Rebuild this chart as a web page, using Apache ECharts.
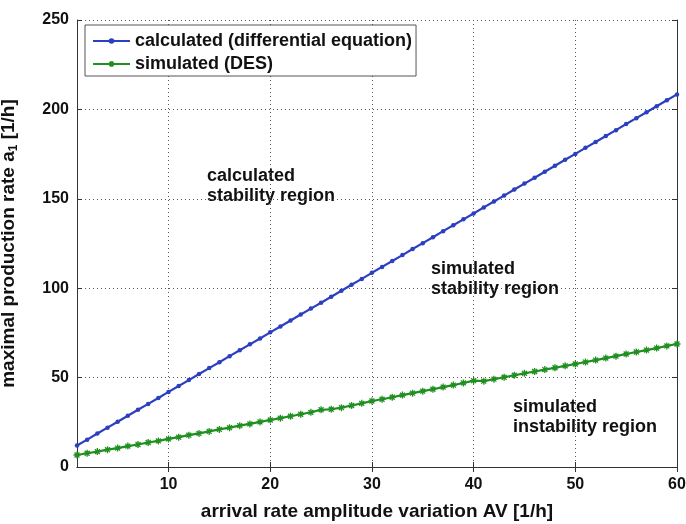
<!DOCTYPE html>
<html>
<head>
<meta charset="utf-8">
<script src="https://cdn.jsdelivr.net/npm/echarts@6/dist/echarts.min.js"></script>
<style>html,body{margin:0;padding:0;background:#fff}#c{width:686px;height:524px}</style>
</head>
<body>
<div id="c"></div>
<script>
var xValues = [1,2,3,4,5,6,7,8,9,10,11,12,13,14,15,16,17,18,19,20,21,22,23,24,25,26,27,28,29,30,31,32,33,34,35,36,37,38,39,40,41,42,43,44,45,46,47,48,49,50,51,52,53,54,55,56,57,58,59,60];
var calculated = [12.0,15.3,18.7,22.0,25.3,28.7,32.0,35.3,38.6,42.0,45.3,48.6,52.0,55.3,58.6,62.0,65.3,68.6,71.9,75.3,78.6,81.9,85.3,88.6,91.9,95.2,98.6,101.9,105.2,108.6,111.9,115.2,118.5,121.9,125.2,128.5,131.9,135.2,138.5,141.8,145.2,148.5,151.8,155.2,158.5,161.8,165.1,168.5,171.8,175.1,178.5,181.8,185.1,188.4,191.8,195.1,198.4,201.8,205.1,208.4];
var simulated = [6.7,7.7,8.6,9.7,10.6,11.7,12.6,13.7,14.6,15.7,16.7,17.8,18.8,19.9,21.0,22.0,23.1,24.1,25.2,26.3,27.3,28.4,29.5,30.6,32.0,32.3,33.2,34.4,35.6,36.9,37.9,39.0,40.2,41.3,42.4,43.5,44.7,45.8,47.0,48.3,48.0,49.1,50.2,51.3,52.4,53.4,54.5,55.5,56.6,57.6,58.7,59.8,60.9,62.0,63.2,64.3,65.4,66.5,67.7,68.8];
var xTicks = [10,20,30,40,50,60];
var seriesNames = ['calculated (differential equation)', 'simulated (DES)'];
var xTitle = 'arrival rate amplitude variation AV [1/h]';
var regionLabels = ['calculated\nstability region', 'simulated\nstability region', 'simulated\ninstability region'];

var FONT = 'Liberation Sans, Arial, sans-serif';
var blue = '#2b3fbf';
var green = '#1f8f1f';
function pairs(ys){ return xValues.map(function(x,i){ return [x, ys[i]]; }); }

var chart = echarts.init(document.getElementById('c'), null, {renderer:'canvas'});
var gridLine = {show:true, lineStyle:{color:'#555', type:[1,3], width:1}};
var axLine = {show:true, lineStyle:{color:'#333', width:1}};
chart.setOption({
  animation:false,
  backgroundColor:'#fff',
  grid:{left:77, right:9, top:20, bottom:57, containLabel:false, outerBoundsMode:'none'},
  legend:{
    orient:'vertical', left:85, top:25,
    itemWidth:37, itemHeight:7, itemGap:5,
    padding:[7,4,3,7],
    borderColor:'#555', borderWidth:1, backgroundColor:'#fff',
    textStyle:{fontFamily:FONT, fontWeight:'bold', fontSize:18, color:'#111'},
    data:seriesNames
  },
  xAxis:[{
    type:'value', min:1, max:60, position:'bottom',
    name:xTitle, nameLocation:'middle', nameGap:35,
    nameTextStyle:{fontFamily:FONT, fontWeight:'bold', fontSize:19, color:'#111'},
    axisLine:axLine,
    axisTick:{show:true, inside:true, length:5, customValues:xTicks, lineStyle:{color:'#333'}},
    axisLabel:{customValues:xTicks, fontFamily:FONT, fontWeight:'bold', fontSize:16, color:'#111', margin:10},
    splitLine:gridLine
  },{
    type:'value', min:1, max:60, position:'top',
    axisLine:axLine,
    axisTick:{show:true, inside:true, length:5, customValues:xTicks, lineStyle:{color:'#333'}},
    axisLabel:{show:false},
    splitLine:{show:false}
  }],
  yAxis:[{
    type:'value', min:0, max:250, interval:50, position:'left',
    name:'{a|maximal production rate a}{s|1}{a| [1/h]}', nameLocation:'middle', nameGap:57,
    nameTextStyle:{fontFamily:FONT, fontWeight:'bold', fontSize:19, color:'#111',
      rich:{a:{fontFamily:FONT, fontWeight:'bold', fontSize:19, color:'#111', lineHeight:22, verticalAlign:'middle'},
            s:{fontFamily:FONT, fontWeight:'bold', fontSize:12, color:'#111', lineHeight:22, verticalAlign:'bottom', padding:[7,0,0,0]}}},
    axisLine:axLine,
    axisTick:{show:true, inside:true, length:5, lineStyle:{color:'#333'}},
    axisLabel:{fontFamily:FONT, fontWeight:'bold', fontSize:16, color:'#111', margin:8},
    splitLine:gridLine
  },{
    type:'value', min:0, max:250, interval:50, position:'right',
    axisLine:axLine,
    axisTick:{show:true, inside:true, length:5, lineStyle:{color:'#333'}},
    axisLabel:{show:false},
    splitLine:{show:false}
  }],
  series:[{
    name:seriesNames[0], type:'line', data:pairs(calculated),
    symbol:'circle', symbolSize:4.5, showSymbol:true,
    lineStyle:{color:blue, width:2.2},
    itemStyle:{color:blue}
  },{
    name:seriesNames[1], type:'line', data:pairs(simulated),
    symbol:'path://M0,5L10,5M5,0L5,10M1.5,1.5L8.5,8.5M8.5,1.5L1.5,8.5', symbolSize:7, showSymbol:true,
    lineStyle:{color:green, width:2.2},
    itemStyle:{color:green, borderColor:green, borderWidth:1.3}
  }],
  graphic:[
    {type:'text', left:207, top:166, style:{text:regionLabels[0], font:'bold 18px '+FONT, fill:'#111', lineHeight:20}},
    {type:'text', left:431, top:259, style:{text:regionLabels[1], font:'bold 18px '+FONT, fill:'#111', lineHeight:20}},
    {type:'text', left:513, top:397, style:{text:regionLabels[2], font:'bold 18px '+FONT, fill:'#111', lineHeight:20}}
  ]
});
</script>
</body>
</html>
